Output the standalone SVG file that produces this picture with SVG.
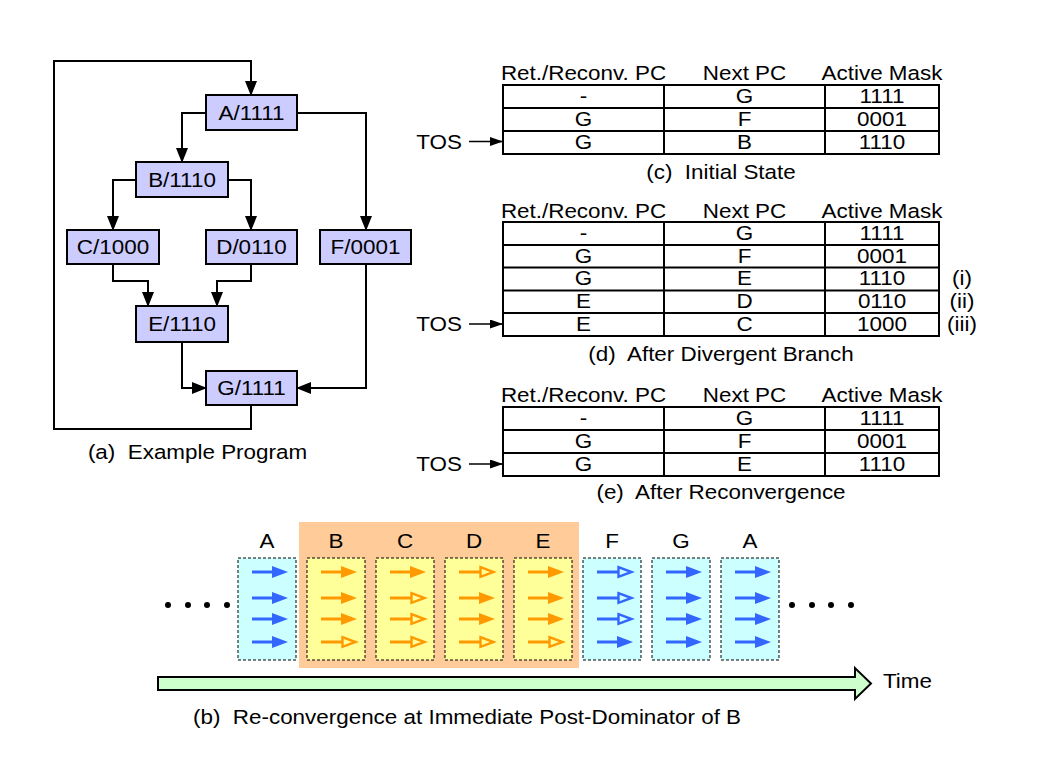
<svg xmlns="http://www.w3.org/2000/svg" xmlns:xlink="http://www.w3.org/1999/xlink" width="1058" height="777" viewBox="0 0 1058 777" xml:space="preserve">
<style>
.t{font-family:"Liberation Sans",Arial,sans-serif;font-size:19.5px;fill:#000;text-anchor:middle;white-space:pre}
.ts{text-anchor:start}
.box{fill:#CCCCFF;stroke:#000;stroke-width:2}
.conn{fill:none;stroke:#000;stroke-width:2;marker-end:url(#ah)}
.tbl{fill:none;stroke:#000;stroke-width:2}
.tos{fill:none;stroke:#000;stroke-width:1.5;marker-end:url(#ahs)}
.cy{fill:#CCFFFF;stroke:#000;stroke-width:1;stroke-dasharray:3,2}
.ye{fill:#FFFF99;stroke:#000;stroke-width:1;stroke-dasharray:3,2}
</style>
<defs>
<marker id="ah" markerUnits="userSpaceOnUse" markerWidth="15" markerHeight="12" refX="14" refY="6" orient="auto"><path d="M0,0 L15,6 L0,12 z" fill="#000"/></marker>
<marker id="ahs" markerUnits="userSpaceOnUse" markerWidth="13" markerHeight="9" refX="13" refY="4.5" orient="auto"><path d="M0,0 L13,4.5 L0,9 z" fill="#000"/></marker>
<g id="bf"><line x1="0" y1="0" x2="21" y2="0" stroke="#3366FF" stroke-width="3"/><polygon points="20,-6 36,0 20,6" fill="#3366FF"/></g>
<g id="bh"><line x1="0" y1="0" x2="21" y2="0" stroke="#3366FF" stroke-width="3"/><polygon points="21.5,-4.8 34.5,0 21.5,4.8" fill="none" stroke="#3366FF" stroke-width="2.4"/></g>
<g id="of"><line x1="0" y1="0" x2="21" y2="0" stroke="#FF9900" stroke-width="3"/><polygon points="20,-6 36,0 20,6" fill="#FF9900"/></g>
<g id="oh"><line x1="0" y1="0" x2="21" y2="0" stroke="#FF9900" stroke-width="3"/><polygon points="21.5,-4.8 34.5,0 21.5,4.8" fill="none" stroke="#FF9900" stroke-width="2.4"/></g>
</defs>
<rect x="0" y="0" width="1058" height="777" fill="#fff"/>

<!-- (a) flowchart -->
<g id="connectors">
<path class="conn" d="M251,405 V429 H54 V61 H251 V95"/>
<path class="conn" d="M206,113 H182 V162"/>
<path class="conn" d="M297,113 H366 V230"/>
<path class="conn" d="M136,180 H113 V230"/>
<path class="conn" d="M228,180 H251 V230"/>
<path class="conn" d="M113,264 V281 H148 V306"/>
<path class="conn" d="M251,264 V281 H217 V306"/>
<path class="conn" d="M182,342 V388 H206"/>
<path class="conn" d="M366,264 V388 H297"/>
</g>
<g id="node-A"><rect class="box" x="206" y="95" width="91" height="35"/><text class="t" transform="translate(251.5,119.5) scale(1.15,1)">A/1111</text></g>
<g id="node-B"><rect class="box" x="136" y="162" width="92" height="35"/><text class="t" transform="translate(182,186.5) scale(1.15,1)">B/1110</text></g>
<g id="node-C"><rect class="box" x="67" y="230" width="92" height="34"/><text class="t" transform="translate(113,254) scale(1.15,1)">C/1000</text></g>
<g id="node-D"><rect class="box" x="206" y="230" width="91" height="34"/><text class="t" transform="translate(251.5,254) scale(1.15,1)">D/0110</text></g>
<g id="node-F"><rect class="box" x="320" y="230" width="91" height="34"/><text class="t" transform="translate(365.5,254) scale(1.15,1)">F/0001</text></g>
<g id="node-E"><rect class="box" x="136" y="306" width="92" height="36"/><text class="t" transform="translate(182,331) scale(1.15,1)">E/1110</text></g>
<g id="node-G"><rect class="box" x="206" y="371" width="91" height="34"/><text class="t" transform="translate(251.5,395) scale(1.15,1)">G/1111</text></g>
<text class="t" transform="translate(197.5,459) scale(1.15,1)">(a)  Example Program</text>

<!-- (c) initial state -->
<g id="table-c">
<text class="t" transform="translate(583.5,80) scale(1.15,1)">Ret./Reconv. PC</text>
<text class="t" transform="translate(744.5,80) scale(1.15,1)">Next PC</text>
<text class="t" transform="translate(882,80) scale(1.15,1)">Active Mask</text>
<rect class="tbl" x="503" y="85" width="436" height="69"/>
<path class="tbl" d="M503,108 H939 M503,131 H939 M664,85 V154 M825,85 V154"/>
<text class="t" transform="translate(583.5,102.5) scale(1.15,1)">-</text>
<text class="t" transform="translate(744.5,102.5) scale(1.15,1)">G</text>
<text class="t" transform="translate(882,102.5) scale(1.15,1)">1111</text>
<text class="t" transform="translate(583.5,125.5) scale(1.15,1)">G</text>
<text class="t" transform="translate(744.5,125.5) scale(1.15,1)">F</text>
<text class="t" transform="translate(882,125.5) scale(1.15,1)">0001</text>
<text class="t" transform="translate(583.5,148.5) scale(1.15,1)">G</text>
<text class="t" transform="translate(744.5,148.5) scale(1.15,1)">B</text>
<text class="t" transform="translate(882,148.5) scale(1.15,1)">1110</text>
<text class="t" transform="translate(439,148.5) scale(1.15,1)">TOS</text>
<line class="tos" x1="469" y1="141.5" x2="503" y2="141.5"/>
<text class="t" transform="translate(721,179) scale(1.15,1)">(c)  Initial State</text>
</g>

<!-- (d) after divergent branch -->
<g id="table-d">
<text class="t" transform="translate(583.5,218) scale(1.15,1)">Ret./Reconv. PC</text>
<text class="t" transform="translate(744.5,218) scale(1.15,1)">Next PC</text>
<text class="t" transform="translate(882,218) scale(1.15,1)">Active Mask</text>
<rect class="tbl" x="503" y="222" width="436" height="114"/>
<path class="tbl" d="M503,245 H939 M503,267.5 H939 M503,290.5 H939 M503,313 H939 M664,222 V336 M825,222 V336"/>
<text class="t" transform="translate(583.5,239.5) scale(1.15,1)">-</text>
<text class="t" transform="translate(744.5,239.5) scale(1.15,1)">G</text>
<text class="t" transform="translate(882,239.5) scale(1.15,1)">1111</text>
<text class="t" transform="translate(583.5,262.5) scale(1.15,1)">G</text>
<text class="t" transform="translate(744.5,262.5) scale(1.15,1)">F</text>
<text class="t" transform="translate(882,262.5) scale(1.15,1)">0001</text>
<text class="t" transform="translate(583.5,285) scale(1.15,1)">G</text>
<text class="t" transform="translate(744.5,285) scale(1.15,1)">E</text>
<text class="t" transform="translate(882,285) scale(1.15,1)">1110</text>
<text class="t" transform="translate(583.5,308) scale(1.15,1)">E</text>
<text class="t" transform="translate(744.5,308) scale(1.15,1)">D</text>
<text class="t" transform="translate(882,308) scale(1.15,1)">0110</text>
<text class="t" transform="translate(583.5,330.5) scale(1.15,1)">E</text>
<text class="t" transform="translate(744.5,330.5) scale(1.15,1)">C</text>
<text class="t" transform="translate(882,330.5) scale(1.15,1)">1000</text>
<text class="t" transform="translate(962,285) scale(1.15,1)">(i)</text>
<text class="t" transform="translate(962,308) scale(1.15,1)">(ii)</text>
<text class="t" transform="translate(962,330.5) scale(1.15,1)">(iii)</text>
<text class="t" transform="translate(439,330.5) scale(1.15,1)">TOS</text>
<line class="tos" x1="469" y1="324" x2="503" y2="324"/>
<text class="t" transform="translate(721,361) scale(1.15,1)">(d)  After Divergent Branch</text>
</g>

<!-- (e) after reconvergence -->
<g id="table-e">
<text class="t" transform="translate(583.5,402) scale(1.15,1)">Ret./Reconv. PC</text>
<text class="t" transform="translate(744.5,402) scale(1.15,1)">Next PC</text>
<text class="t" transform="translate(882,402) scale(1.15,1)">Active Mask</text>
<rect class="tbl" x="503" y="407" width="436" height="69"/>
<path class="tbl" d="M503,430 H939 M503,453 H939 M664,407 V476 M825,407 V476"/>
<text class="t" transform="translate(583.5,424.5) scale(1.15,1)">-</text>
<text class="t" transform="translate(744.5,424.5) scale(1.15,1)">G</text>
<text class="t" transform="translate(882,424.5) scale(1.15,1)">1111</text>
<text class="t" transform="translate(583.5,447.5) scale(1.15,1)">G</text>
<text class="t" transform="translate(744.5,447.5) scale(1.15,1)">F</text>
<text class="t" transform="translate(882,447.5) scale(1.15,1)">0001</text>
<text class="t" transform="translate(583.5,470.5) scale(1.15,1)">G</text>
<text class="t" transform="translate(744.5,470.5) scale(1.15,1)">E</text>
<text class="t" transform="translate(882,470.5) scale(1.15,1)">1110</text>
<text class="t" transform="translate(439,470.5) scale(1.15,1)">TOS</text>
<line class="tos" x1="469" y1="464" x2="503" y2="464"/>
<text class="t" transform="translate(721,499) scale(1.15,1)">(e)  After Reconvergence</text>
</g>

<!-- (b) timeline -->
<g id="timeline">
<rect x="299" y="522" width="280" height="146" fill="#FFCC99"/>
<g id="step-A1"><rect class="cy" x="238" y="558" width="58" height="102"/><text class="t" transform="translate(267,548) scale(1.15,1)">A</text>
<use href="#bf" x="252" y="572"/><use href="#bf" x="252" y="598"/><use href="#bf" x="252" y="619"/><use href="#bf" x="252" y="642"/></g>
<g id="step-B"><rect class="ye" x="307" y="558" width="58" height="102"/><text class="t" transform="translate(336,548) scale(1.15,1)">B</text>
<use href="#of" x="321" y="572"/><use href="#of" x="321" y="598"/><use href="#of" x="321" y="619"/><use href="#oh" x="321" y="642"/></g>
<g id="step-C"><rect class="ye" x="376" y="558" width="58" height="102"/><text class="t" transform="translate(405,548) scale(1.15,1)">C</text>
<use href="#of" x="390" y="572"/><use href="#oh" x="390" y="598"/><use href="#oh" x="390" y="619"/><use href="#oh" x="390" y="642"/></g>
<g id="step-D"><rect class="ye" x="445" y="558" width="58" height="102"/><text class="t" transform="translate(474,548) scale(1.15,1)">D</text>
<use href="#oh" x="459" y="572"/><use href="#of" x="459" y="598"/><use href="#of" x="459" y="619"/><use href="#oh" x="459" y="642"/></g>
<g id="step-E"><rect class="ye" x="514" y="558" width="58" height="102"/><text class="t" transform="translate(543,548) scale(1.15,1)">E</text>
<use href="#of" x="528" y="572"/><use href="#of" x="528" y="598"/><use href="#of" x="528" y="619"/><use href="#oh" x="528" y="642"/></g>
<g id="step-F"><rect class="cy" x="583" y="558" width="58" height="102"/><text class="t" transform="translate(612,548) scale(1.15,1)">F</text>
<use href="#bh" x="597" y="572"/><use href="#bh" x="597" y="598"/><use href="#bh" x="597" y="619"/><use href="#bf" x="597" y="642"/></g>
<g id="step-G"><rect class="cy" x="652" y="558" width="58" height="102"/><text class="t" transform="translate(681,548) scale(1.15,1)">G</text>
<use href="#bf" x="666" y="572"/><use href="#bf" x="666" y="598"/><use href="#bf" x="666" y="619"/><use href="#bf" x="666" y="642"/></g>
<g id="step-A2"><rect class="cy" x="721" y="558" width="58" height="102"/><text class="t" transform="translate(750,548) scale(1.15,1)">A</text>
<use href="#bf" x="735" y="572"/><use href="#bf" x="735" y="598"/><use href="#bf" x="735" y="619"/><use href="#bf" x="735" y="642"/></g>
<g id="dots" fill="#000">
<circle cx="168" cy="605" r="3"/><circle cx="188" cy="605" r="3"/><circle cx="207" cy="605" r="3"/><circle cx="227" cy="605" r="3"/>
<circle cx="792" cy="605" r="3"/><circle cx="812" cy="605" r="3"/><circle cx="831" cy="605" r="3"/><circle cx="851" cy="605" r="3"/>
</g>
<polygon points="158,677 855,677 855,668 871,683.5 855,699 855,690 158,690" fill="#CCFFCC" stroke="#000" stroke-width="2"/>
<text class="t ts" transform="translate(883,688) scale(1.15,1)">Time</text>
<text class="t" transform="translate(467,724) scale(1.15,1)">(b)  Re-convergence at Immediate Post-Dominator of B</text>
</g>
</svg>
